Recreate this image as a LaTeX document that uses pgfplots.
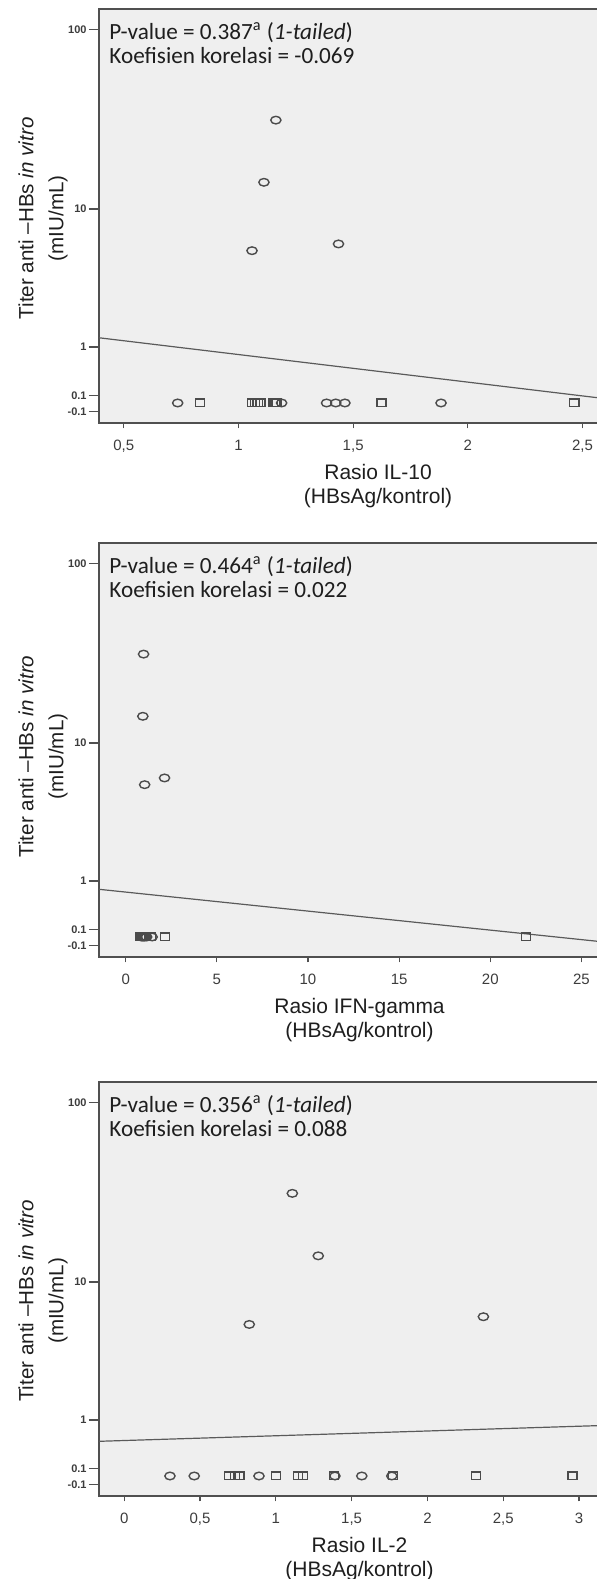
\documentclass[border=0pt]{standalone}
\usepackage{fontspec}
\setmainfont{Liberation Sans}
\newfontfamily\calibri{Carlito}
\usepackage{pgfplots}
\pgfplotsset{compat=1.18}

\definecolor{plotbg}{RGB}{239,239,239}
\definecolor{framegray}{RGB}{80,80,80}
\definecolor{markgray}{RGB}{75,75,75}
\definecolor{linegray}{RGB}{90,90,90}
\definecolor{ticktext}{RGB}{60,60,60}
\definecolor{textdark}{RGB}{30,30,30}

\tikzset{pv/.style={anchor=base west, inner sep=0pt, font=\calibri\fontsize{11.6}{13}\selectfont, text=textdark}}

% 1 px of the reference = 0.5pt
\pgfplotsset{
  titer/.style={
    scale only axis, width=250.5pt, height=207pt,
    axis background/.style={fill=plotbg},
    axis line style={draw=framegray, line width=0.9pt},
    y coord trafo/.code={\pgfmathparse{log10(##1+1)}},
    y coord inv trafo/.code={\pgfmathparse{10^##1-1}},
    ymin=-0.2222, ymax=128.8,
    ytick={-0.1,0.1,1,10,100},
    yticklabels={-0.1,0.1,1,10,100},
    xtick pos=bottom, ytick pos=left,
    tick align=outside, major tick length=5pt,
    xtick style={/pgfplots/major tick length=2.5pt},
    tick style={draw=framegray, line width=0.6pt},
    yticklabel style={font=\fontsize{5.5}{6}\selectfont\bfseries, text=ticktext, inner sep=1pt},
    xticklabel style={font=\fontsize{7.5}{9}\selectfont, text=ticktext},
    /pgf/number format/use comma,
    /pgf/number format/assume math mode=true,
    ylabel={Titer anti –HBs \textit{in vitro}\\(mIU/mL)},
    ylabel style={align=center, font=\fontsize{10.3}{15}\selectfont, text=textdark,
      anchor=center},
    xlabel style={align=center, font=\fontsize{10.5}{12}\selectfont, text=textdark,
      anchor=north, inner sep=0pt, yshift=-20.5pt},
  },
  circ/.style={only marks, mark=o, mark size=1.9pt,
    mark options={xscale=1.35, draw=markgray, line width=0.7pt}},
  sq/.style={only marks, mark=square, mark size=1.9pt,
    mark options={xscale=1.2, draw=markgray, line width=0.7pt}},
  fit/.style={no markers, draw=linegray, line width=0.6pt},
}

\begin{document}
\begin{tikzpicture}
\useasboundingbox (0,0) rectangle (298.5pt,-789.5pt);

% ---------- IL-10 ----------
\begin{axis}[titer, at={(49.5pt,-4.65pt)}, anchor=north west,
  xmin=0.392, xmax=2.576, xtick={0.5,1,1.5,2,2.5},
  ylabel style={at={(axis description cs:-0.1118,0.495)}},
  xlabel={Rasio IL-10\\(HBsAg/kontrol)},
  xlabel style={at={(axis description cs:0.557,0)}}]
\addplot[fit] coordinates {(0.392,1.239) (2.576,0.0631)};
\addplot[circ] coordinates {
  (1.163,32.0) (1.111,14.3) (1.059,5.57) (1.436,6.14)
  (0.735,0) (1.188,0) (1.384,0) (1.424,0) (1.464,0) (1.883,0)};
\addplot[sq] coordinates {
  (0.832,0) (1.060,0) (1.072,0) (1.084,0) (1.096,0)
  (1.150,0) (1.158,0) (1.166,0) (1.624,0) (2.464,0)};
\node[pv] at (axis description cs:0.02,0.927) {P-value = 0.387\textsuperscript{a} (\textit{1-tailed})};
\node[pv] at (axis description cs:0.02,0.870) {Koefisien korelasi = -0.069};
\end{axis}

% ---------- IFN-gamma ----------
\begin{axis}[titer, at={(49.5pt,-271.65pt)}, anchor=north west,
  xmin=-1.465, xmax=26.02, xtick={0,5,10,15,20,25},
  ylabel style={at={(axis description cs:-0.1118,0.485)}},
  xlabel={Rasio IFN-gamma\\(HBsAg/kontrol)},
  xlabel style={at={(axis description cs:0.52,0)}}]
\addplot[fit] coordinates {(-1.465,0.803) (26.02,-0.055)};
\addplot[circ] coordinates {
  (0.98,32.0) (0.94,14.3) (1.04,5.57) (2.13,6.14)
  (0.85,0) (0.92,0) (1.00,0) (1.05,0) (1.15,0) (1.45,0)};
\addplot[sq] coordinates {
  (0.78,0) (0.82,0) (0.86,0) (0.90,0) (0.95,0)
  (1.00,0) (1.10,0) (1.40,0) (2.16,0) (21.95,0)};
\node[pv] at (axis description cs:0.02,0.927) {P-value = 0.464\textsuperscript{a} (\textit{1-tailed})};
\node[pv] at (axis description cs:0.02,0.870) {Koefisien korelasi = 0.022};
\end{axis}

% ---------- IL-2 ----------
\begin{axis}[titer, at={(49.5pt,-541.15pt)}, anchor=north west,
  xmin=-0.166, xmax=3.138, xtick={0,0.5,1,1.5,2,2.5,3},
  ylabel style={at={(axis description cs:-0.1118,0.472)}},
  xlabel={Rasio IL-2\\(HBsAg/kontrol)},
  xlabel style={at={(axis description cs:0.52,0)}}]
\addplot[fit] coordinates {(-0.166,0.535) (3.138,0.865)};
\addplot[circ] coordinates {
  (1.109,31.9) (1.280,14.2) (0.825,5.51) (2.369,6.16)
  (0.302,0) (0.462,0) (0.889,0) (1.390,0) (1.567,0) (1.765,0)};
\addplot[sq] coordinates {
  (0.690,0) (0.730,0) (0.760,0) (1.000,0) (1.145,0)
  (1.180,0) (1.384,0) (1.773,0) (2.320,0) (2.956,0)};
\node[pv] at (axis description cs:0.02,0.927) {P-value = 0.356\textsuperscript{a} (\textit{1-tailed})};
\node[pv] at (axis description cs:0.02,0.870) {Koefisien korelasi = 0.088};
\end{axis}
\end{tikzpicture}
\end{document}
